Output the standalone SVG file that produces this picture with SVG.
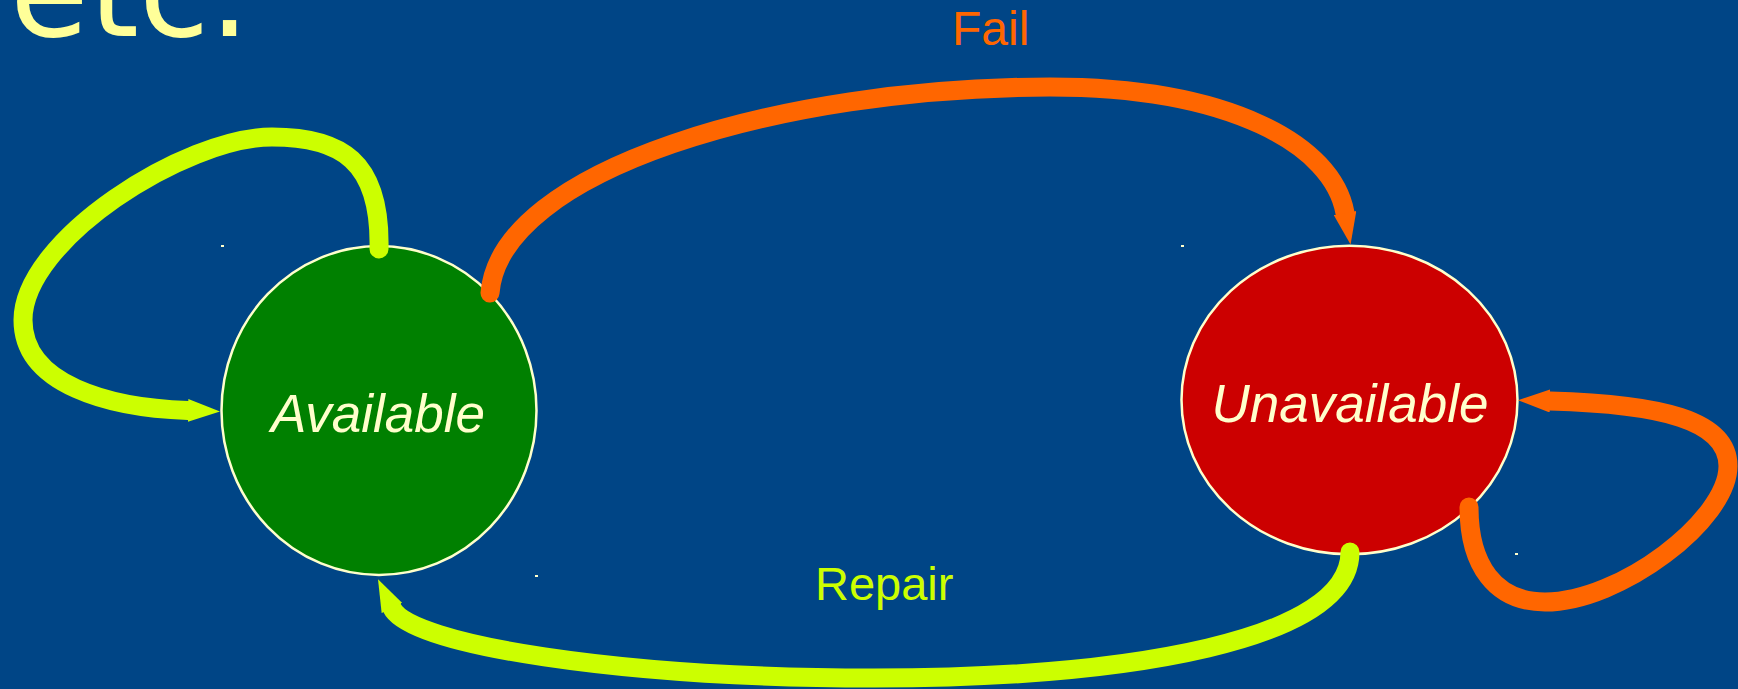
<svg xmlns="http://www.w3.org/2000/svg" width="1738" height="689" viewBox="0 0 1738 689">
  <style>
    .state { stroke: #FFFFCC; stroke-width: 2.5; }
    .label { font-family: "Liberation Sans", Arial, sans-serif; font-style: italic; fill: #FFFFCC; text-anchor: middle; }
    .edge { fill: none; stroke-width: 19; stroke-linecap: round; }
    .green { stroke: #CCFF00; }
    .orange { stroke: #FF6600; }
    .elabel { font-family: "Liberation Sans", Arial, sans-serif; }
    .dot { fill: #FFFFCC; }
  </style>
  <defs>
    <marker id="arrowGreen" viewBox="0 0 32 23" refX="0" refY="11.5" markerWidth="32" markerHeight="23" markerUnits="userSpaceOnUse" orient="auto">
      <path d="M0,0 L32,11.5 L0,23 Z" fill="#CCFF00"/>
    </marker>
    <marker id="arrowOrange" viewBox="0 0 32 23" refX="0" refY="11.5" markerWidth="32" markerHeight="23" markerUnits="userSpaceOnUse" orient="auto">
      <path d="M0,0 L32,11.5 L0,23 Z" fill="#FF6600"/>
    </marker>
  </defs>
  <rect x="0" y="0" width="1738" height="689" fill="#004586"/>
  <text x="10" y="36" font-family="DejaVu Sans, sans-serif" font-size="128" fill="#FFFF99">etc.</text>

  <g id="node-available">
    <ellipse class="state" cx="379" cy="410.5" rx="157.5" ry="164.5" fill="#008000"/>
    <text class="label" x="378" y="432" font-size="53">Available</text>
    <rect class="dot" x="221" y="245" width="3" height="2"/>
    <rect class="dot" x="535" y="575" width="3" height="2"/>
  </g>

  <g id="node-unavailable">
    <ellipse class="state" cx="1349.5" cy="400" rx="168" ry="154.3" fill="#CC0000"/>
    <text class="label" x="1350" y="422" font-size="53">Unavailable</text>
    <rect class="dot" x="1181" y="245" width="3" height="2"/>
    <rect class="dot" x="1515" y="553" width="3" height="2"/>
  </g>

  <g id="connectors">
    <path class="edge green" d="M379,249 C381,160 340,137 272,137 C185,137 23,240 23,320 C23,385 110,408 188,410.5" marker-end="url(#arrowGreen)"/>
    <path class="edge orange" d="M490,293 C500,170 780,87 1050,87 C1230,87 1333,145 1345,213" marker-end="url(#arrowOrange)"/>
    <path class="edge orange" d="M1469,507 C1469,565 1495,602 1545,602 C1620,602 1728,520 1728,466 C1728,420 1660,404 1550,401" marker-end="url(#arrowOrange)"/>
    <path class="edge green" d="M1350,552 C1350,640 1130,678 874,678 C620,678 410,645 392,608" marker-end="url(#arrowGreen)"/>
    <text class="elabel" x="952" y="45" font-size="48" fill="#FF6600">Fail</text>
    <text class="elabel" x="815" y="600" font-size="47" fill="#CCFF00">Repair</text>
  </g>
</svg>
